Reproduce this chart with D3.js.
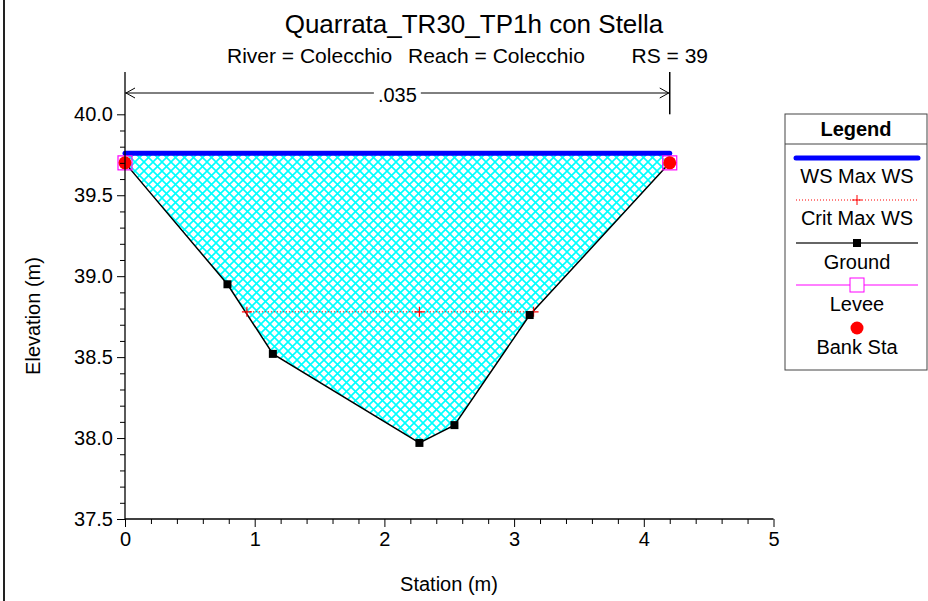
<!DOCTYPE html>
<html>
<head>
<meta charset="utf-8">
<script src="https://cdn.jsdelivr.net/npm/d3@7"></script>
<style>
  body { margin: 0; background: #fff; }
  svg { display: block; font-family: "Liberation Sans", Arial, sans-serif; }
  .tick text { font-size: 20px; fill: #000; }
  .tick line { stroke: #000; }
</style>
</head>
<body>
<svg id="chart"></svg>
<script>
'use strict'

// cross section data
const groundSta = [0, 0.79, 1.14, 2.27, 2.54, 3.12, 4.2]
const groundElev = [39.70, 38.95, 38.52, 37.97, 38.08, 38.76, 39.70]
const wsSta = [0, 4.2]
const wsElev = [39.76, 39.76]
const critSta = [0.94, 2.27, 3.15]
const critElev = [38.78, 38.78, 38.78]
const leveeSta = [0, 4.2]
const leveeElev = [39.70, 39.70]
const bankSta = [0, 4.2]
const bankElev = [39.70, 39.70]
const nSta = [0, 4.2]
const nLabel = ".035"

// axis ticks
const xMajor = [0, 1, 2, 3, 4, 5]
const yMajor = [37.5, 38.0, 38.5, 39.0, 39.5, 40.0]
const legendLabels = ["WS Max WS", "Crit Max WS", "Ground", "Levee", "Bank Sta"]
const subtitleParts = ["River = Colecchio", "Reach = Colecchio", "RS = 39"]

const width = 928, height = 601
const margins = {top: 114.3, right: 154.5, bottom: 82, left: 125}

const x = d3.scaleLinear().domain([0, 5]).range([margins.left, width - margins.right])
const y = d3.scaleLinear().domain([37.5, 40.0]).range([height - margins.bottom, margins.top])
const axisTop = 72

const svg = d3.select('#chart')
  .attr("width", width)
  .attr("height", height)

// cross hatch pattern for the flow area (9px diamonds)
const cell = 9
const defs = svg.append("defs")
const pat = defs.append("pattern")
  .attr("id", "hatch")
  .attr("patternUnits", "userSpaceOnUse")
  .attr("width", cell)
  .attr("height", cell)
pat.append("rect").attr("width", cell).attr("height", cell).attr("fill", "#fff")
pat.append("path")
  .attr("d", `M-1,-1L${cell + 1},${cell + 1}M${cell + 1},-1L-1,${cell + 1}`)
  .attr("stroke", "#00ffff")
  .attr("stroke-width", 1.6)
  .attr("fill", "none")

// left frame line
svg.append("line")
  .attr("x1", 4).attr("x2", 4).attr("y1", 0).attr("y2", height)
  .attr("stroke", "#222").attr("stroke-width", 2)

// titles
svg.append("text")
  .attr("x", 474).attr("y", 33)
  .attr("text-anchor", "middle")
  .style("font-size", "26px")
  .text("Quarrata_TR30_TP1h con Stella")
const subX = [227, 408, 708]
const subAnchor = ["start", "start", "end"]
svg.selectAll(".subtitle")
  .data(subtitleParts)
  .enter().append("text")
  .attr("class", "subtitle")
  .attr("x", (d, i) => subX[i])
  .attr("y", 63)
  .attr("text-anchor", (d, i) => subAnchor[i])
  .style("font-size", "21px")
  .text(d => d)

// flow area
const polyPts = [[wsSta[0], wsElev[0]]]
  .concat(groundSta.map((s, i) => [s, groundElev[i]]))
  .concat([[wsSta[1], wsElev[1]]])
const line = d3.line().x(d => x(d[0])).y(d => y(d[1]))
svg.append("path")
  .attr("d", line(polyPts) + "Z")
  .attr("fill", "url(#hatch)")

// ground line
const groundPts = groundSta.map((s, i) => [s, groundElev[i]])
svg.append("path")
  .attr("d", line(groundPts))
  .attr("fill", "none")
  .attr("stroke", "#000")
  .attr("stroke-width", 1.5)

// critical depth line
const critPts = critSta.map((s, i) => [s, critElev[i]])
svg.append("path")
  .attr("d", line(critPts))
  .attr("fill", "none")
  .attr("stroke", "#ff0000")
  .attr("stroke-width", 1)
  .attr("stroke-dasharray", "1,2")
svg.selectAll(".critMark")
  .data(critPts)
  .enter().append("path")
  .attr("class", "critMark")
  .attr("d", d => `M${x(d[0]) - 5},${y(d[1])}h10M${x(d[0])},${y(d[1]) - 5}v10`)
  .attr("stroke", "#ff0000")
  .attr("stroke-width", 1.2)

// water surface
const wsPts = wsSta.map((s, i) => [s, wsElev[i]])
svg.append("path")
  .attr("d", line(wsPts))
  .attr("fill", "none")
  .attr("stroke", "#0000ff")
  .attr("stroke-width", 5)
  .attr("stroke-linecap", "round")

// ground markers
svg.selectAll(".groundMark")
  .data(groundPts)
  .enter().append("rect")
  .attr("class", "groundMark")
  .attr("x", d => x(d[0]) - 4)
  .attr("y", d => y(d[1]) - 4)
  .attr("width", 8).attr("height", 8)
  .attr("fill", "#000")

// levees
svg.selectAll(".levee")
  .data(leveeSta.map((s, i) => [s, leveeElev[i]]))
  .enter().append("rect")
  .attr("class", "levee")
  .attr("x", d => x(d[0]) - 7)
  .attr("y", d => y(d[1]) - 7)
  .attr("width", 14).attr("height", 14)
  .attr("fill", "none")
  .attr("stroke", "#ff00ff")
  .attr("stroke-width", 1.2)

// bank stations
svg.selectAll(".bank")
  .data(bankSta.map((s, i) => [s, bankElev[i]]))
  .enter().append("circle")
  .attr("class", "bank")
  .attr("cx", d => x(d[0]))
  .attr("cy", d => y(d[1]))
  .attr("r", 6.5)
  .attr("fill", "#ff0000")

// x axis: major + minor ticks
const xMinor = d3.range(0, 5.001, 0.2).filter(v => Math.abs(v - Math.round(v)) > 1e-6)
const xAxisG = svg.append("g")
  .attr("transform", "translate(0," + y(37.5) + ")")
xAxisG.append("g")
  .call(d3.axisBottom(x).tickValues(xMinor).tickSize(5).tickFormat(""))
  .call(g => g.select(".domain").remove())
xAxisG.append("g")
  .call(d3.axisBottom(x).tickValues(xMajor).tickSize(8).tickPadding(5).tickFormat(d3.format("d")))
  .call(g => g.select(".domain").remove())
xAxisG.append("line")
  .attr("x1", x(0)).attr("x2", x(5))
  .attr("stroke", "#000").attr("stroke-width", 1.3)

// y axis: major + minor ticks
const yMinor = d3.range(37.6, 40.0, 0.1).filter(v => Math.abs(v * 2 - Math.round(v * 2)) > 1e-6)
const yAxisG = svg.append("g")
  .attr("transform", "translate(" + x(0) + ",0)")
yAxisG.append("g")
  .call(d3.axisLeft(y).tickValues(yMinor).tickSize(5).tickFormat(""))
  .call(g => g.select(".domain").remove())
yAxisG.append("g")
  .call(d3.axisLeft(y).tickValues(yMajor).tickSize(8).tickPadding(4).tickFormat(d3.format(".1f")))
  .call(g => g.select(".domain").remove())
yAxisG.append("line")
  .attr("y1", axisTop).attr("y2", y(37.5))
  .attr("stroke", "#000").attr("stroke-width", 1.3)

// axis titles
svg.append("text")
  .attr("x", 449).attr("y", 591)
  .attr("text-anchor", "middle")
  .style("font-size", "20px")
  .text("Station (m)")
svg.append("text")
  .attr("transform", "translate(40,316) rotate(-90)")
  .attr("text-anchor", "middle")
  .style("font-size", "20px")
  .text("Elevation (m)")

// Manning's n dimension line
const dimY = 93
const nG = svg.append("g")
const nText = nG.append("text")
  .attr("x", (x(nSta[0]) + x(nSta[1])) / 2)
  .attr("y", 102)
  .attr("text-anchor", "middle")
  .style("font-size", "20px")
  .text(nLabel)
const nb = nText.node().getBBox()
nG.append("line")
  .attr("x1", x(nSta[0])).attr("x2", nb.x - 4)
  .attr("y1", dimY).attr("y2", dimY)
  .attr("stroke", "#000")
nG.append("line")
  .attr("x1", nb.x + nb.width + 4).attr("x2", x(nSta[1]))
  .attr("y1", dimY).attr("y2", dimY)
  .attr("stroke", "#000")
nG.append("line")
  .attr("x1", x(nSta[1])).attr("x2", x(nSta[1]))
  .attr("y1", axisTop).attr("y2", y(40.0))
  .attr("stroke", "#000").attr("stroke-width", 1.5)
nG.append("path")
  .attr("d", `M${x(nSta[0]) + 10},${dimY - 5}L${x(nSta[0]) + 1},${dimY}L${x(nSta[0]) + 10},${dimY + 5}`)
  .attr("fill", "none").attr("stroke", "#000")
nG.append("path")
  .attr("d", `M${x(nSta[1]) - 10},${dimY - 5}L${x(nSta[1]) - 1},${dimY}L${x(nSta[1]) - 10},${dimY + 5}`)
  .attr("fill", "none").attr("stroke", "#000")

// legend
const lg = svg.append("g")
lg.append("rect")
  .attr("x", 785).attr("y", 114)
  .attr("width", 142).attr("height", 256)
  .attr("fill", "#fff").attr("stroke", "#444")
lg.append("line")
  .attr("x1", 785).attr("x2", 927).attr("y1", 144).attr("y2", 144)
  .attr("stroke", "#444")
lg.append("text")
  .attr("x", 856).attr("y", 136)
  .attr("text-anchor", "middle")
  .style("font-size", "20px").style("font-weight", "bold")
  .text("Legend")
const lx0 = 796, lx1 = 918, lcx = 857
const symY = [158, 200, 243, 285, 328]
const textY = [183, 225, 269, 311, 354]
// WS
lg.append("line").attr("x1", lx0).attr("x2", lx1).attr("y1", symY[0]).attr("y2", symY[0])
  .attr("stroke", "#0000ff").attr("stroke-width", 5).attr("stroke-linecap", "round")
// crit
lg.append("line").attr("x1", lx0).attr("x2", lx1).attr("y1", symY[1]).attr("y2", symY[1])
  .attr("stroke", "#ff0000").attr("stroke-dasharray", "1,2")
lg.append("path").attr("d", `M${lcx - 5},${symY[1]}h10M${lcx},${symY[1] - 5}v10`)
  .attr("stroke", "#ff0000")
// ground
lg.append("line").attr("x1", lx0).attr("x2", lx1).attr("y1", symY[2]).attr("y2", symY[2])
  .attr("stroke", "#333").attr("stroke-width", 1.5)
lg.append("rect").attr("x", lcx - 4).attr("y", symY[2] - 4).attr("width", 8).attr("height", 8)
  .attr("fill", "#000")
// levee
lg.append("line").attr("x1", lx0).attr("x2", lx1).attr("y1", symY[3]).attr("y2", symY[3])
  .attr("stroke", "#ff00ff")
lg.append("rect").attr("x", lcx - 7).attr("y", symY[3] - 7).attr("width", 14).attr("height", 14)
  .attr("fill", "#fff").attr("stroke", "#ff00ff")
// bank sta
lg.append("circle").attr("cx", lcx).attr("cy", symY[4]).attr("r", 6.5).attr("fill", "#ff0000")

lg.selectAll(".legLabel")
  .data(legendLabels)
  .enter().append("text")
  .attr("class", "legLabel")
  .attr("x", lcx)
  .attr("y", (d, i) => textY[i])
  .attr("text-anchor", "middle")
  .style("font-size", "20px")
  .text(d => d)
</script>
</body>
</html>
